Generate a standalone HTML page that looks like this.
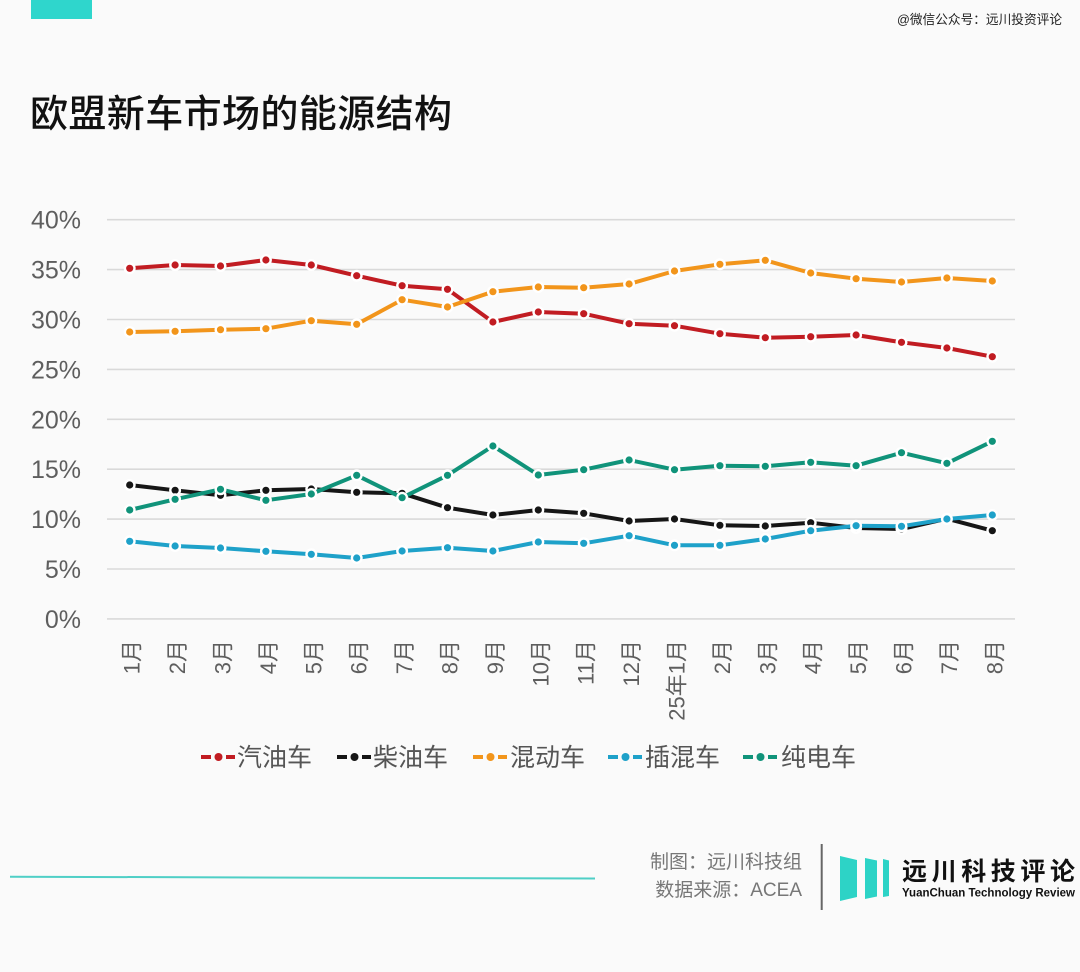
<!DOCTYPE html>
<html><head><meta charset="utf-8">
<style>
html,body{margin:0;padding:0;background:#fafafa;}
svg{display:block;}
text{font-family:"Liberation Sans","Noto Sans CJK SC",sans-serif;}
</style></head>
<body>
<svg width="1080" height="972" viewBox="0 0 1080 972" xmlns="http://www.w3.org/2000/svg">
<defs>
<marker id="mr" markerUnits="userSpaceOnUse" markerWidth="16" markerHeight="16" refX="8" refY="8"><circle cx="8" cy="8" r="4.8" fill="#c11c22" stroke="#ffffff" stroke-width="2.4"/></marker>
<marker id="mk" markerUnits="userSpaceOnUse" markerWidth="16" markerHeight="16" refX="8" refY="8"><circle cx="8" cy="8" r="4.8" fill="#161616" stroke="#ffffff" stroke-width="2.4"/></marker>
<marker id="mo" markerUnits="userSpaceOnUse" markerWidth="16" markerHeight="16" refX="8" refY="8"><circle cx="8" cy="8" r="4.8" fill="#f2951b" stroke="#ffffff" stroke-width="2.4"/></marker>
<marker id="mb" markerUnits="userSpaceOnUse" markerWidth="16" markerHeight="16" refX="8" refY="8"><circle cx="8" cy="8" r="4.8" fill="#1ea1c9" stroke="#ffffff" stroke-width="2.4"/></marker>
<marker id="mg" markerUnits="userSpaceOnUse" markerWidth="16" markerHeight="16" refX="8" refY="8"><circle cx="8" cy="8" r="4.8" fill="#10937a" stroke="#ffffff" stroke-width="2.4"/></marker>
</defs>
<rect width="1080" height="972" fill="#fafafa"/>
<!-- top bar -->
<rect x="31" y="0" width="61" height="19" fill="#2fd6cc"/>
<text x="897" y="24" font-size="13" fill="#222" textLength="165" lengthAdjust="spacingAndGlyphs">@微信公众号：远川投资评论</text>
<!-- title -->
<text x="30" y="127" font-size="38" font-weight="500" fill="#111" textLength="422" lengthAdjust="spacing">欧盟新车市场的能源结构</text>

<!-- grid -->
<g stroke="#d9d9d9" stroke-width="1.6">
<line x1="107" y1="219.7" x2="1015" y2="219.7"/>
<line x1="107" y1="269.6" x2="1015" y2="269.6"/>
<line x1="107" y1="319.5" x2="1015" y2="319.5"/>
<line x1="107" y1="369.4" x2="1015" y2="369.4"/>
<line x1="107" y1="419.3" x2="1015" y2="419.3"/>
<line x1="107" y1="469.2" x2="1015" y2="469.2"/>
<line x1="107" y1="519.1" x2="1015" y2="519.1"/>
<line x1="107" y1="569" x2="1015" y2="569"/>
<line x1="107" y1="618.9" x2="1015" y2="618.9"/>
</g>
<!-- y labels -->
<g font-size="25" fill="#5e5e5e" text-anchor="end">
<text x="81" y="228.7">40%</text>
<text x="81" y="278.6">35%</text>
<text x="81" y="328.5">30%</text>
<text x="81" y="378.4">25%</text>
<text x="81" y="428.3">20%</text>
<text x="81" y="478.2">15%</text>
<text x="81" y="528.1">10%</text>
<text x="81" y="578">5%</text>
<text x="81" y="627.9">0%</text>
</g>
<!-- x labels -->
<g font-size="22" fill="#5e5e5e" text-anchor="end">
<text transform="translate(139.7,640) rotate(-90)">1月</text>
<text transform="translate(185.1,640) rotate(-90)">2月</text>
<text transform="translate(230.5,640) rotate(-90)">3月</text>
<text transform="translate(275.9,640) rotate(-90)">4月</text>
<text transform="translate(321.3,640) rotate(-90)">5月</text>
<text transform="translate(366.7,640) rotate(-90)">6月</text>
<text transform="translate(412.1,640) rotate(-90)">7月</text>
<text transform="translate(457.5,640) rotate(-90)">8月</text>
<text transform="translate(502.9,640) rotate(-90)">9月</text>
<text transform="translate(548.3,640) rotate(-90)">10月</text>
<text transform="translate(593.7,640) rotate(-90)">11月</text>
<text transform="translate(639.1,640) rotate(-90)">12月</text>
<text transform="translate(684.5,640) rotate(-90)">25年1月</text>
<text transform="translate(729.9,640) rotate(-90)">2月</text>
<text transform="translate(775.3,640) rotate(-90)">3月</text>
<text transform="translate(820.7,640) rotate(-90)">4月</text>
<text transform="translate(866.1,640) rotate(-90)">5月</text>
<text transform="translate(911.5,640) rotate(-90)">6月</text>
<text transform="translate(956.9,640) rotate(-90)">7月</text>
<text transform="translate(1002.3,640) rotate(-90)">8月</text>
</g>

<!-- series -->
<g fill="none" stroke-width="4" stroke-linejoin="round">
<polyline stroke="#c11c22" marker-start="url(#mr)" marker-mid="url(#mr)" marker-end="url(#mr)" points="129.7,268.3 175.1,265 220.5,266 265.9,260 311.3,265 356.7,275.7 402.1,285.7 447.5,289.3 492.9,322 538.3,312 583.7,313.7 629.1,323.7 674.5,325.7 719.9,333.7 765.3,337.7 810.7,336.7 856.1,335 901.5,342.3 946.9,348 992.3,356.7"/>
<polyline stroke="#161616" marker-start="url(#mk)" marker-mid="url(#mk)" marker-end="url(#mk)" points="129.7,485 175.1,490.3 220.5,495.3 265.9,490.3 311.3,489 356.7,492.3 402.1,493.3 447.5,507.7 492.9,515 538.3,510 583.7,513.3 629.1,521 674.5,519 719.9,525.3 765.3,526 810.7,522.7 856.1,528 901.5,529 946.9,518.7 992.3,530.7"/>
<polyline stroke="#f2951b" marker-start="url(#mo)" marker-mid="url(#mo)" marker-end="url(#mo)" points="129.7,332 175.1,331.3 220.5,329.7 265.9,328.7 311.3,320.7 356.7,324.3 402.1,299.7 447.5,307 492.9,291.7 538.3,287 583.7,287.7 629.1,284 674.5,271 719.9,264.3 765.3,260.3 810.7,273 856.1,278.7 901.5,282 946.9,278 992.3,281"/>
<polyline stroke="#1ea1c9" marker-start="url(#mb)" marker-mid="url(#mb)" marker-end="url(#mb)" points="129.7,541.3 175.1,546 220.5,548 265.9,551.3 311.3,554.3 356.7,558 402.1,551 447.5,547.7 492.9,551 538.3,542 583.7,543.3 629.1,535.7 674.5,545.3 719.9,545.3 765.3,539 810.7,530.7 856.1,525.7 901.5,526.3 946.9,519 992.3,515"/>
<polyline stroke="#10937a" marker-start="url(#mg)" marker-mid="url(#mg)" marker-end="url(#mg)" points="129.7,510 175.1,499.3 220.5,489.3 265.9,500.3 311.3,494 356.7,475.3 402.1,497.7 447.5,475.3 492.9,446 538.3,475 583.7,469.7 629.1,460 674.5,469.7 719.9,465.7 765.3,466.3 810.7,462.3 856.1,465.7 901.5,452.7 946.9,463.3 992.3,441.3"/>
</g>

<!-- legend -->
<g stroke-width="4">
<line x1="201" y1="757" x2="211" y2="757" stroke="#c11c22"/><line x1="226" y1="757" x2="235" y2="757" stroke="#c11c22"/>
<line x1="337" y1="757" x2="347" y2="757" stroke="#161616"/><line x1="362" y1="757" x2="371" y2="757" stroke="#161616"/>
<line x1="473" y1="757" x2="483" y2="757" stroke="#f2951b"/><line x1="498" y1="757" x2="507" y2="757" stroke="#f2951b"/>
<line x1="608" y1="757" x2="618" y2="757" stroke="#1ea1c9"/><line x1="633" y1="757" x2="642" y2="757" stroke="#1ea1c9"/>
<line x1="743" y1="757" x2="753" y2="757" stroke="#10937a"/><line x1="768" y1="757" x2="777" y2="757" stroke="#10937a"/>
</g>
<circle cx="218.5" cy="757" r="4" fill="#c11c22"/>
<circle cx="354.5" cy="757" r="4" fill="#161616"/>
<circle cx="490.5" cy="757" r="4" fill="#f2951b"/>
<circle cx="625.5" cy="757" r="4" fill="#1ea1c9"/>
<circle cx="760.5" cy="757" r="4" fill="#10937a"/>
<g font-size="25" fill="#555">
<text x="237" y="766">汽油车</text>
<text x="373" y="766">柴油车</text>
<text x="510" y="766">混动车</text>
<text x="645" y="766">插混车</text>
<text x="781" y="766">纯电车</text>
</g>

<!-- footer -->
<line x1="10" y1="876.7" x2="595" y2="878.5" stroke="#4fcfc6" stroke-width="2"/>
<g font-size="19" fill="#777" text-anchor="end">
<text x="802" y="868">制图：远川科技组</text>
<text x="802" y="896">数据来源：ACEA</text>
</g>
<line x1="821.7" y1="844" x2="821.7" y2="910" stroke="#666" stroke-width="2"/>
<polygon points="840,856 857,860 857,897 840,901" fill="#2dd3c6"/>
<polygon points="865,858 877,860.5 877,896.5 865,899" fill="#2dd3c6"/>
<polygon points="883,859 889,860.5 889,896 883,897" fill="#2dd3c6"/>
<text x="902" y="880" font-size="25" font-weight="700" fill="#111" textLength="173" lengthAdjust="spacing">远川科技评论</text>
<text x="902" y="896.5" font-size="12" font-weight="700" fill="#111" textLength="173" lengthAdjust="spacingAndGlyphs">YuanChuan Technology Review</text>
</svg>
</body></html>
